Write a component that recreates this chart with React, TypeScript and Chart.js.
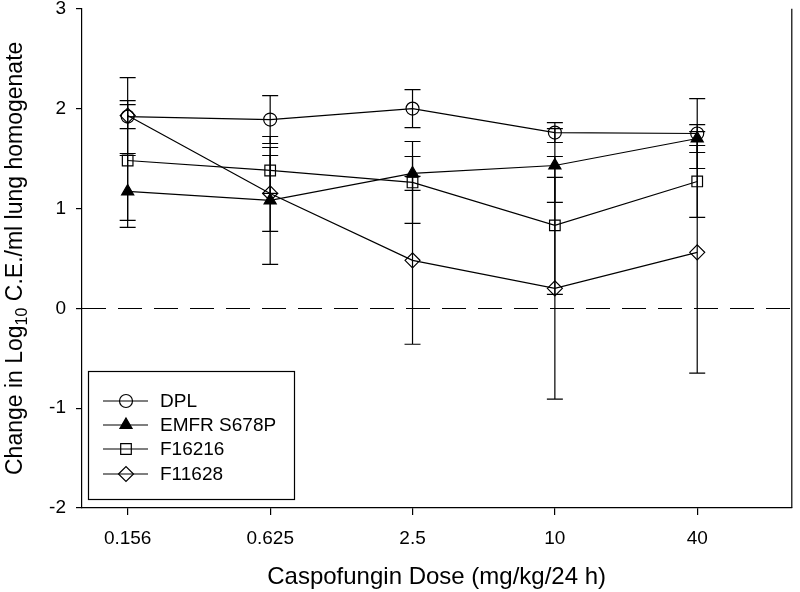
import React, { useEffect, useRef } from "react";
import { Chart, registerables } from "chart.js";
import { drawPoint } from "chart.js/helpers";

Chart.register(...registerables);

const doses = [0.156, 0.625, 2.5, 10, 40];
const xTickLabels = ["0.156", "0.625", "2.5", "10", "40"];
const yTicks = [-2, -1, 0, 1, 2, 3];

const seriesNames = ["DPL", "EMFR S678P", "F16216", "F11628"];
const dplValues = [1.92, 1.89, 2.0, 1.76, 1.75];
const emfrValues = [1.17, 1.08, 1.35, 1.43, 1.7];
const f16216Values = [1.48, 1.38, 1.26, 0.83, 1.27];
const f11628Values = [1.93, 1.15, 0.48, 0.2, 0.56];

const dplErr = [0.12, 0.24, 0.19, 0.1, 0.35];
const emfrErr = [0.36, 0.64, 0.17, 0.37, 0.14];
const f16216Err = [0.6, 0.23, 0.41, 0.69, 0.36];
const f11628Err = [0.38, 0.38, 0.84, 1.11, 1.21];

const xTitle = "Caspofungin Dose (mg/kg/24 h)";
const yTitleParts = ["Change in Log", "10", " C.E./ml lung homogenate"];

const FONT = "'Liberation Sans', Arial, Helvetica, sans-serif";

export default function App() {
  const ref = useRef<HTMLCanvasElement | null>(null);

  useEffect(() => {
    document.body.style.margin = "0";
    const canvas = ref.current;
    if (!canvas) return;

    const values = [dplValues, emfrValues, f16216Values, f11628Values];
    const errs = [dplErr, emfrErr, f16216Err, f11628Err];
    const styles = [
      { pointStyle: "circle", radius: 6.5, fill: "rgba(0,0,0,0)" },
      { pointStyle: "triangle", radius: 7, fill: "#000" },
      { pointStyle: "rect", radius: 7.5, fill: "rgba(0,0,0,0)" },
      { pointStyle: "rectRot", radius: 7.5, fill: "rgba(0,0,0,0)" },
    ];

    const datasets = seriesNames.map((name, i) => ({
      label: name,
      data: doses.map((d, j) => ({ x: d, y: values[i][j] })),
      borderColor: "#000",
      borderWidth: 1.2,
      pointStyle: styles[i].pointStyle as any,
      pointRadius: styles[i].radius,
      pointHoverRadius: styles[i].radius,
      pointBackgroundColor: styles[i].fill,
      pointBorderColor: "#000",
      pointBorderWidth: 1.2,
      fill: false,
      tension: 0,
      showLine: true,
    }));

    const decorPlugin = {
      id: "decor",
      beforeDatasetsDraw(chart: any) {
        const { ctx, chartArea, scales } = chart;
        const xs = scales.x;
        const ys = scales.y;
        ctx.save();
        ctx.strokeStyle = "#000";
        ctx.lineWidth = 1.2;
        ctx.setLineDash([24, 12]);
        const y0 = Math.round(ys.getPixelForValue(0)) + 0.5;
        ctx.beginPath();
        ctx.moveTo(chartArea.left, y0);
        ctx.lineTo(chartArea.right, y0);
        ctx.stroke();
        ctx.setLineDash([]);
        ctx.beginPath();
        ctx.moveTo(chartArea.right + 0.5, chartArea.top);
        ctx.lineTo(chartArea.right + 0.5, chartArea.bottom);
        ctx.stroke();
        for (let i = 0; i < values.length; i++) {
          for (let j = 0; j < doses.length; j++) {
            const px = xs.getPixelForValue(doses[j]);
            const hi = ys.getPixelForValue(values[i][j] + errs[i][j]);
            const lo = ys.getPixelForValue(values[i][j] - errs[i][j]);
            ctx.beginPath();
            ctx.moveTo(px, hi);
            ctx.lineTo(px, lo);
            ctx.moveTo(px - 8, hi);
            ctx.lineTo(px + 8, hi);
            ctx.moveTo(px - 8, lo);
            ctx.lineTo(px + 8, lo);
            ctx.stroke();
          }
        }
        ctx.restore();
      },
      afterDraw(chart: any) {
        const { ctx, chartArea } = chart;
        ctx.save();
        const cy = (chartArea.top + chartArea.bottom) / 2;
        ctx.translate(14, cy);
        ctx.rotate(-Math.PI / 2);
        const mainFont = `23px ${FONT}`;
        const subFont = `16px ${FONT}`;
        ctx.font = mainFont;
        const w0 = ctx.measureText(yTitleParts[0]).width;
        const w2 = ctx.measureText(yTitleParts[2]).width;
        ctx.font = subFont;
        const w1 = ctx.measureText(yTitleParts[1]).width;
        let x = -(w0 + w1 + w2) / 2;
        ctx.fillStyle = "#000";
        ctx.textBaseline = "alphabetic";
        ctx.textAlign = "left";
        ctx.font = mainFont;
        ctx.fillText(yTitleParts[0], x, 8);
        x += w0;
        ctx.font = subFont;
        ctx.fillText(yTitleParts[1], x, 13);
        x += w1;
        ctx.font = mainFont;
        ctx.fillText(yTitleParts[2], x, 8);
        ctx.restore();

        ctx.save();
        ctx.strokeStyle = "#000";
        ctx.lineWidth = 1.2;
        ctx.strokeRect(88.5, 371.5, 206, 128);
        const rowY = [401, 425, 449, 474];
        chart.data.datasets.forEach((ds: any, i: number) => {
          const y = rowY[i];
          ctx.strokeStyle = "#000";
          ctx.lineWidth = 1.2;
          ctx.beginPath();
          ctx.moveTo(103, y);
          ctx.lineTo(148, y);
          ctx.stroke();
          ctx.fillStyle = ds.pointBackgroundColor;
          ctx.strokeStyle = "#000";
          ctx.lineWidth = 1.2;
          drawPoint(ctx, { pointStyle: ds.pointStyle, radius: ds.pointRadius, rotation: 0, borderWidth: 1.2 } as any, 126, y);
          ctx.fillStyle = "#000";
          ctx.font = `19px ${FONT}`;
          ctx.textBaseline = "middle";
          ctx.textAlign = "left";
          ctx.fillText(ds.label, 160, y + 1);
        });
        ctx.restore();
      },
    };

    const chart = new Chart(canvas, {
      type: "line",
      data: { datasets: datasets as any },
      options: {
        animation: false,
        responsive: false,
        devicePixelRatio: 1,
        layout: { padding: { top: 8, right: 2, left: 0, bottom: 0 } },
        plugins: {
          legend: { display: false },
          tooltip: { enabled: false },
          title: { display: false },
        },
        scales: {
          x: {
            type: "logarithmic",
            min: 0.1,
            max: 100,
            afterBuildTicks: (scale: any) => {
              scale.ticks = doses.map((v) => ({ value: v }));
            },
            afterFit: (scale: any) => {
              scale.height = 84;
              scale.paddingLeft = 0;
              scale.paddingRight = 0;
            },
            ticks: {
              autoSkip: false,
              maxRotation: 0,
              color: "#000",
              padding: 12,
              font: { family: FONT, size: 19 },
              callback: (_v: any, i: number) => xTickLabels[i],
            },
            grid: { drawOnChartArea: false, drawTicks: true, tickLength: 7, color: "#000", lineWidth: 1.2 },
            border: { display: true, color: "#000", width: 1.2 },
            title: {
              display: true,
              text: xTitle,
              color: "#000",
              font: { family: FONT, size: 24 },
              padding: { top: 0, bottom: 0 },
            },
          },
          y: {
            type: "linear",
            min: -2,
            max: 3,
            afterBuildTicks: (scale: any) => {
              scale.ticks = yTicks.map((v) => ({ value: v }));
            },
            afterFit: (scale: any) => {
              scale.width = 82;
              scale.paddingTop = 0;
              scale.paddingBottom = 0;
            },
            ticks: {
              color: "#000",
              padding: 10,
              font: { family: FONT, size: 19 },
              callback: (v: any) => String(v),
            },
            grid: { drawOnChartArea: false, drawTicks: true, tickLength: 6, color: "#000", lineWidth: 1.2 },
            border: { display: true, color: "#000", width: 1.2 },
          },
        },
      },
      plugins: [decorPlugin],
    });

    return () => chart.destroy();
  }, []);

  return (
    <div style={{ width: 800, height: 592, position: "relative" }}>
      <canvas ref={ref} width={800} height={592} />
    </div>
  );
}
